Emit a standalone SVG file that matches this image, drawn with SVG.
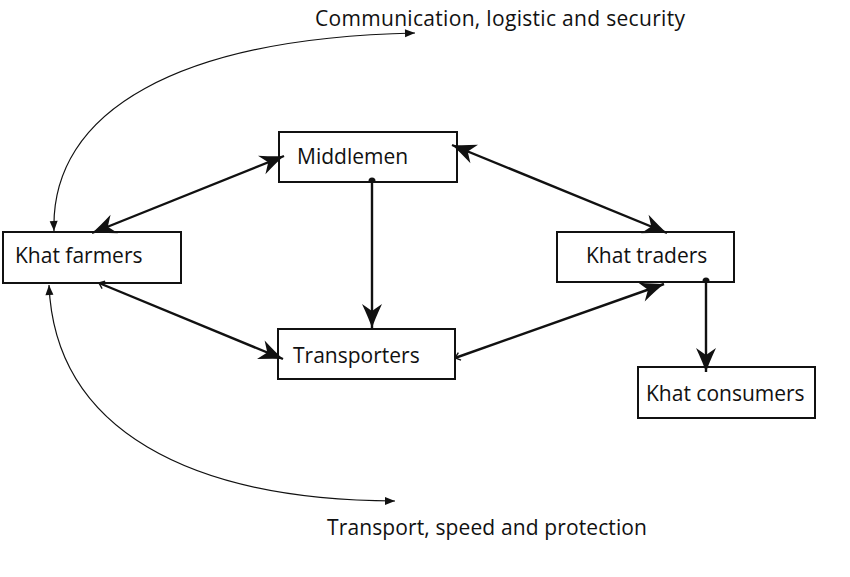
<svg xmlns="http://www.w3.org/2000/svg" width="850" height="577" viewBox="0 0 850 577">
<defs>
<style>
.box{fill:#fff;stroke:#111;stroke-width:2}
.lbl{font-family:"Open Sans","Liberation Sans",sans-serif;font-size:21px;fill:#111}
.thick{fill:none;stroke:#111;stroke-width:2.4}
.thin{fill:none;stroke:#111;stroke-width:1.2}
</style>
<marker id="big" markerUnits="userSpaceOnUse" viewBox="-25 -11 27 22" refX="0" refY="0" markerWidth="27" markerHeight="22" orient="auto-start-reverse">
<path d="M0,0 Q-9,-3 -24,-10 L-17,0 L-24,10 Q-9,3 0,0 Z" fill="#111"/>
</marker>
<marker id="small" markerUnits="userSpaceOnUse" viewBox="-11 -5 12 10" refX="0" refY="0" markerWidth="12" markerHeight="10" orient="auto-start-reverse">
<path d="M0,0 L-10,-4 L-10,4 Z" fill="#111"/>
</marker>
<marker id="tick" markerUnits="userSpaceOnUse" viewBox="-7 -5 8 10" refX="0" refY="0" markerWidth="8" markerHeight="10" orient="auto-start-reverse">
<path d="M-5,-4 L0,0 L-5,4" fill="none" stroke="#111" stroke-width="1.4"/>
</marker>
<marker id="dot" markerUnits="userSpaceOnUse" viewBox="-5 -5 10 10" refX="0" refY="0" markerWidth="10" markerHeight="10" orient="0">
<path d="M-3.5,0 A3.5,3.5 0 0 1 3.5,0 Z" fill="#111"/>
</marker>
</defs>
<rect width="850" height="577" fill="#fff"/>
<g id="khat-farmers">
<rect class="box" x="3" y="232" width="178" height="51"/>
<text class="lbl" x="15" y="263">Khat farmers</text>
</g>
<g id="middlemen">
<rect class="box" x="279" y="132" width="178" height="50"/>
<text class="lbl" x="297" y="164">Middlemen</text>
</g>
<g id="transporters">
<rect class="box" x="278" y="329" width="177" height="50"/>
<text class="lbl" x="293" y="363">Transporters</text>
</g>
<g id="khat-traders">
<rect class="box" x="557" y="232" width="177" height="50"/>
<text class="lbl" x="586" y="263">Khat traders</text>
</g>
<g id="khat-consumers">
<rect class="box" x="638" y="367" width="177" height="51"/>
<text class="lbl" x="646" y="401">Khat consumers</text>
</g>
<g id="labels">
<text class="lbl" x="315" y="26" textLength="370" lengthAdjust="spacing">Communication, logistic and security</text>
<text class="lbl" x="327" y="535" textLength="320" lengthAdjust="spacing">Transport, speed and protection</text>
</g>
<g id="connectors">
<path class="thick" d="M92,233 L284,156" marker-start="url(#big)" marker-end="url(#big)"/>
<path class="thick" d="M452,145 L667,233" marker-start="url(#big)" marker-end="url(#big)"/>
<path class="thick" d="M372,181 L372,328" marker-start="url(#dot)" marker-end="url(#big)"/>
<path class="thick" d="M455,358 L664,284" marker-start="url(#tick)" marker-end="url(#big)"/>
<path class="thick" d="M99,283 L283,359" marker-start="url(#tick)" marker-end="url(#big)"/>
<path class="thick" d="M706,281 L706,372" marker-start="url(#dot)" marker-end="url(#big)"/>
<path class="thin" d="M54,231 C50,110 180,38 415,33" marker-start="url(#small)" marker-end="url(#small)"/>
<path class="thin" d="M49,285 C55,430 190,500 395,501" marker-start="url(#small)" marker-end="url(#small)"/>
</g>
</svg>
